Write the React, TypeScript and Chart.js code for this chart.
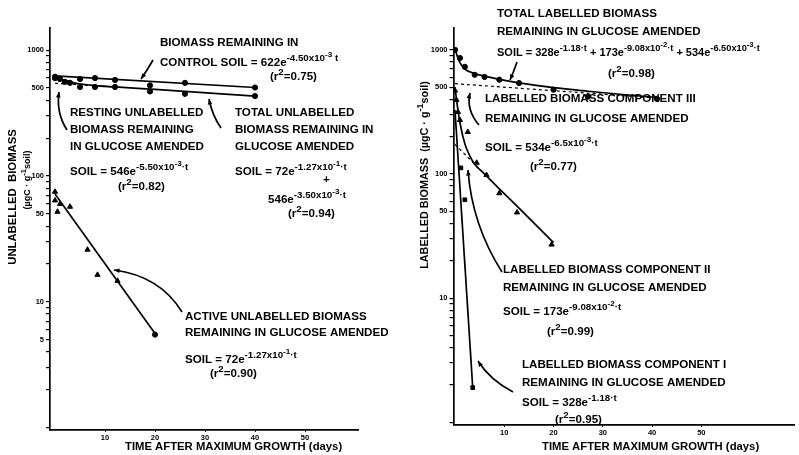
import React, { useEffect, useRef } from "react";
import { Chart, registerables } from "chart.js";
Chart.register(...registerables);

const FONT = '"Liberation Sans", Arial, sans-serif';

// ===== Left panel: unlabelled biomass =====
const controlDays = [0, 5, 8, 12, 19, 26, 40];
const controlBiomass = [615, 590, 600, 580, 525, 550, 505];
const controlFitDays = [0, 40];
const controlFit = [625, 505];

const totalUnlDays = [0, 1, 2, 3, 5, 8, 12, 19, 26, 40];
const totalUnlBiomass = [600, 590, 560, 550, 510, 510, 510, 470, 450, 432];
const totalUnlFitDays = [0, 2, 4, 7, 12, 20, 40];
const totalUnlFit = [615, 575, 548, 528, 510, 488, 432];

const restingFitDays = [0, 12];
const restingFit = [546, 510];

const activeDays = [0, 0, 0.5, 1, 3, 6.5, 8.5, 12.5];
const activeBiomass = [75, 64, 52, 60, 57, 26, 16.4, 14.7];
const activeEndDays = [20];
const activeEnd = [5.5];
const activeFitDays = [0, 20];
const activeFit = [72, 5.6];

const leftYLabels = [1000, 500, 100, 50, 10, 5];

// ===== Right panel: labelled biomass =====
const totalLabDays = [0, 1, 2, 4, 6, 9, 13, 20, 27, 41];
const totalLabBiomass = [1000, 860, 730, 630, 605, 575, 540, 478, 420, 403];
const totalLabFitDays = [0, 0.5, 1, 2, 3, 4, 6, 9, 13, 20, 27, 34, 41];
const totalLabFit = [1035, 880, 790, 700, 665, 643, 614, 578, 542, 496, 464, 437, 413];

const compIIIFitDays = [0, 41];
const compIIIFit = [534, 409];

const compIIDays = [0, 0.3, 0.6, 1, 2.6, 4.4, 6.4, 9, 12.6, 19.6];
const compIIBiomass = [470, 395, 316, 272, 218, 123, 98, 70, 49, 27];
const compIIFitDays = [0, 0.5, 1, 2, 3, 4, 6, 9, 13, 20];
const compIIFit = [500, 350, 260, 175, 140, 120, 100, 76, 53, 28];
const compIIExtrapDays = [0, 6];
const compIIExtrap = [173, 100];

const compIDays = [1.2, 2, 3.6];
const compIBiomass = [112, 62, 1.9];
const compIFitDays = [0, 3.6];
const compIFit = [328, 1.9];

const rightYLabels = [1000, 500, 100, 50, 10];
const xTickValues = [10, 20, 30, 40, 50];

// ---------- helpers ----------
const pts = (xs: number[], ys: number[]) => xs.map((x, i) => ({ x, y: ys[i] }));

const marks = (xs: number[], ys: number[], style: string, r = 2.6) => ({
  data: pts(xs, ys),
  showLine: false,
  pointStyle: style,
  pointRadius: r,
  backgroundColor: "#000",
  borderColor: "#000",
  borderWidth: 1,
});

const line = (xs: number[], ys: number[], dashed = false, curved = false) => ({
  data: pts(xs, ys),
  showLine: true,
  pointRadius: 0,
  borderColor: "#000",
  borderWidth: dashed ? 1.2 : 1.7,
  borderDash: dashed ? [3, 3] : [],
  cubicInterpolationMode: curved ? "monotone" : "default",
  fill: false,
});

function logTicks(min: number, max: number) {
  const out: any[] = [];
  for (let d = 1; d <= 1000; d *= 10)
    for (let m = 1; m <= 9; m++) {
      const v = m * d;
      if (v >= min && v <= max) out.push({ value: v });
    }
  return out;
}

type Seg = [string, number];
type Item = { x: number; y: number; segs: Seg[]; size?: number; rot?: boolean };
type Arrow = { from: [number, number]; ctrl: [number, number]; to: [number, number] };

const plain = (x: number, y: number, t: string, size?: number): Item => ({ x, y, segs: [[t, 0]], size });
const r2 = (x: number, y: number, v: string): Item => ({ x, y, segs: [["(r", 0], ["2", 1], ["=" + v + ")", 0]] });

const segSize = (lvl: number, size: number) => (lvl === 0 ? size : lvl === 1 ? size * 0.84 : size * 0.7);
const segDy = (lvl: number, size: number) => (lvl === 0 ? 0 : lvl === 1 ? -size * 0.42 : -size * 0.74);

function drawRich(ctx: CanvasRenderingContext2D, x: number, y: number, segs: Seg[], size: number) {
  let cx = x;
  for (const [t, lvl] of segs) {
    ctx.font = `bold ${segSize(lvl, size)}px ${FONT}`;
    ctx.fillText(t, cx, y + segDy(lvl, size));
    cx += ctx.measureText(t).width;
  }
}

function richWidth(ctx: CanvasRenderingContext2D, segs: Seg[], size: number) {
  let w = 0;
  for (const [t, lvl] of segs) {
    ctx.font = `bold ${segSize(lvl, size)}px ${FONT}`;
    w += ctx.measureText(t).width;
  }
  return w;
}

function annotationPlugin(items: Item[], arrows: Arrow[], offsetX: number) {
  return {
    id: "annotations",
    afterDraw(chart: any) {
      const ctx: CanvasRenderingContext2D = chart.ctx;
      ctx.save();
      ctx.fillStyle = "#000";
      ctx.strokeStyle = "#000";
      ctx.textBaseline = "middle";
      ctx.textAlign = "left";
      for (const it of items) {
        const size = it.size ?? 11.6;
        if (it.rot) {
          ctx.save();
          ctx.translate(it.x - offsetX, it.y);
          ctx.rotate(-Math.PI / 2);
          const w = richWidth(ctx, it.segs, size);
          drawRich(ctx, -w / 2, 0, it.segs, size);
          ctx.restore();
        } else {
          drawRich(ctx, it.x - offsetX, it.y, it.segs, size);
        }
      }
      ctx.lineWidth = 1.7;
      for (const a of arrows) {
        const [fx, fy] = a.from;
        const [cx, cy] = a.ctrl;
        const [tx, ty] = a.to;
        ctx.beginPath();
        ctx.moveTo(fx - offsetX, fy);
        ctx.quadraticCurveTo(cx - offsetX, cy, tx - offsetX, ty);
        ctx.stroke();
        const ang = Math.atan2(ty - cy, tx - cx);
        const L = 6;
        ctx.beginPath();
        ctx.moveTo(tx - offsetX, ty);
        ctx.lineTo(tx - offsetX - L * Math.cos(ang - 0.4), ty - L * Math.sin(ang - 0.4));
        ctx.lineTo(tx - offsetX - L * Math.cos(ang + 0.4), ty - L * Math.sin(ang + 0.4));
        ctx.closePath();
        ctx.fill();
      }
      ctx.restore();
    },
  };
}

function makeConfig(opts: {
  datasets: any[];
  xMin: number;
  xMax: number;
  yMin: number;
  yMax: number;
  yLabels: number[];
  yWidth: number;
  xHeight: number;
  padding: any;
  plugin: any;
}) {
  const tickFont = { size: 7.5, weight: "bold" as const, family: FONT };
  return {
    type: "scatter" as const,
    data: { datasets: opts.datasets },
    options: {
      animation: false as const,
      responsive: false,
      devicePixelRatio: 1,
      layout: { padding: opts.padding },
      plugins: { legend: { display: false }, tooltip: { enabled: false } },
      scales: {
        x: {
          type: "linear" as const,
          min: opts.xMin,
          max: opts.xMax,
          afterBuildTicks: (s: any) => {
            s.ticks = xTickValues.map((v) => ({ value: v }));
          },
          afterFit: (s: any) => {
            s.height = opts.xHeight;
          },
          ticks: { font: tickFont, color: "#000", padding: 1, autoSkip: false, maxRotation: 0 },
          grid: { drawOnChartArea: false, drawTicks: true, tickLength: 2, color: "#000" },
          border: { color: "#000", width: 1.7 },
        },
        y: {
          type: "logarithmic" as const,
          min: opts.yMin,
          max: opts.yMax,
          afterBuildTicks: (s: any) => {
            s.ticks = logTicks(opts.yMin, opts.yMax);
          },
          afterFit: (s: any) => {
            s.width = opts.yWidth;
          },
          ticks: {
            font: tickFont,
            color: "#000",
            padding: 2,
            autoSkip: false,
            callback: (v: any) => (opts.yLabels.includes(Number(v)) ? String(v) : ""),
          },
          grid: { drawOnChartArea: false, drawTicks: true, tickLength: 4, color: "#000", lineWidth: 1.2 },
          border: { color: "#000", width: 1.7 },
        },
      },
    },
    plugins: [opts.plugin],
  };
}

// ---------- annotations ----------
const leftItems: Item[] = [
  plain(160, 43, "BIOMASS REMAINING IN"),
  { x: 160, y: 63, segs: [["CONTROL SOIL = 622e", 0], ["-4.50x10", 1], ["-3", 2], [" t", 1]] },
  r2(270, 77, "0.75"),
  plain(70, 113, "RESTING UNLABELLED"),
  plain(70, 130, "BIOMASS REMAINING"),
  plain(70, 147, "IN GLUCOSE AMENDED"),
  { x: 70, y: 172, segs: [["SOIL = 546e", 0], ["-5.50x10", 1], ["-3", 2], ["·t", 1]] },
  r2(118, 187, "0.82"),
  plain(235, 113, "TOTAL UNLABELLED"),
  plain(235, 130, "BIOMASS REMAINING IN"),
  plain(235, 147, "GLUCOSE AMENDED"),
  { x: 235, y: 172, segs: [["SOIL = 72e", 0], ["-1.27x10", 1], ["-1", 2], ["·t", 1]] },
  plain(323, 180, "+"),
  { x: 268, y: 200, segs: [["546e", 0], ["-3.50x10", 1], ["-3", 2], ["·t", 1]] },
  r2(288, 214, "0.94"),
  plain(185, 317, "ACTIVE UNLABELLED BIOMASS"),
  plain(185, 333, "REMAINING IN GLUCOSE AMENDED"),
  { x: 185, y: 360, segs: [["SOIL = 72e", 0], ["-1.27x10", 1], ["-1", 2], ["·t", 1]] },
  r2(210, 374, "0.90"),
  plain(125, 447, "TIME AFTER MAXIMUM GROWTH (days)", 11.3),
  { x: 13, y: 197, segs: [["UNLABELLED  BIOMASS", 0]], size: 11.3, rot: true },
  { x: 28, y: 180, segs: [["(µgC · g", 0], ["-1", 1], ["soil)", 0]], size: 9, rot: true },
];
const leftArrows: Arrow[] = [
  { from: [153, 60], ctrl: [148, 69], to: [141, 79] },
  { from: [67, 130], ctrl: [56, 113], to: [59, 92] },
  { from: [221, 128], ctrl: [212, 115], to: [209, 99] },
  { from: [182, 312], ctrl: [160, 276], to: [114, 270] },
];

const rightItems: Item[] = [
  plain(497, 14, "TOTAL LABELLED BIOMASS"),
  plain(497, 32, "REMAINING IN GLUCOSE AMENDED"),
  {
    x: 497,
    y: 53,
    size: 11,
    segs: [
      ["SOIL = 328e", 0], ["-1.18·t", 1], [" + 173e", 0], ["-9.08x10", 1], ["-2", 2], ["·t", 1],
      [" + 534e", 0], ["-6.50x10", 1], ["-3", 2], ["·t", 1],
    ],
  },
  r2(608, 74, "0.98"),
  plain(485, 99, "LABELLED BIOMASS COMPONENT III"),
  plain(485, 119, "REMAINING IN GLUCOSE AMENDED"),
  { x: 485, y: 148, segs: [["SOIL = 534e", 0], ["-6.5x10", 1], ["-3", 2], ["·t", 1]] },
  r2(530, 167, "0.77"),
  plain(503, 270, "LABELLED BIOMASS COMPONENT II"),
  plain(503, 288, "REMAINING IN GLUCOSE AMENDED"),
  { x: 503, y: 312, segs: [["SOIL = 173e", 0], ["-9.08x10", 1], ["-2", 2], ["·t", 1]] },
  r2(547, 332, "0.99"),
  plain(522, 365, "LABELLED BIOMASS COMPONENT I"),
  plain(522, 383, "REMAINING IN GLUCOSE AMENDED"),
  { x: 522, y: 403, segs: [["SOIL = 328e", 0], ["-1.18·t", 1]] },
  r2(555, 420, "0.95"),
  plain(542, 447, "TIME AFTER MAXIMUM GROWTH (days)", 11.3),
  { x: 425, y: 175, segs: [["LABELLED BIOMASS  (µgC · g", 0], ["-1", 1], ["soil)", 0]], size: 10.8, rot: true },
];
const rightArrows: Arrow[] = [
  { from: [517, 62], ctrl: [514, 71], to: [510, 80] },
  { from: [479, 125], ctrl: [466, 110], to: [470, 93] },
  { from: [502, 272], ctrl: [472, 225], to: [468, 170] },
  { from: [513, 392], ctrl: [490, 380], to: [478, 361] },
];

function leftConfig() {
  return makeConfig({
    datasets: [
      line(controlFitDays, controlFit),
      line(totalUnlFitDays, totalUnlFit, false, true),
      line(restingFitDays, restingFit, true),
      line(activeFitDays, activeFit),
      marks(controlDays, controlBiomass, "circle"),
      marks(totalUnlDays, totalUnlBiomass, "circle"),
      marks(activeDays, activeBiomass, "triangle", 3),
      marks(activeEndDays, activeEnd, "circle"),
    ],
    xMin: -1,
    xMax: 60.6,
    yMin: 0.96,
    yMax: 1500,
    yLabels: leftYLabels,
    yWidth: 50,
    xHeight: 25,
    padding: { left: 0, right: 42, top: 28, bottom: 0 },
    plugin: annotationPlugin(leftItems, leftArrows, 0),
  });
}

function rightConfig() {
  return makeConfig({
    datasets: [
      line(totalLabFitDays, totalLabFit, false, true),
      line(compIIIFitDays, compIIIFit, true),
      line(compIIFitDays, compIIFit, false, true),
      line(compIIExtrapDays, compIIExtrap, true),
      line(compIFitDays, compIFit),
      marks(totalLabDays, totalLabBiomass, "circle"),
      marks(compIIDays, compIIBiomass, "triangle", 3),
      marks(compIDays, compIBiomass, "rect", 2.6),
    ],
    xMin: -0.3,
    xMax: 68.8,
    yMin: 0.95,
    yMax: 1500,
    yLabels: rightYLabels,
    yWidth: 53.5,
    xHeight: 30,
    padding: { left: 0, right: 0, top: 28, bottom: 0 },
    plugin: annotationPlugin(rightItems, rightArrows, 400),
  });
}

export default function App() {
  const leftRef = useRef<HTMLCanvasElement>(null);
  const rightRef = useRef<HTMLCanvasElement>(null);
  useEffect(() => {
    const l = new Chart(leftRef.current as any, leftConfig() as any);
    const r = new Chart(rightRef.current as any, rightConfig() as any);
    return () => {
      l.destroy();
      r.destroy();
    };
  }, []);
  return (
    <div style={{ position: "fixed", left: 0, top: 0, width: 799, height: 455, background: "#fff" }}>
      <canvas ref={leftRef} width={400} height={455} style={{ position: "absolute", left: 0, top: 0 }} />
      <canvas ref={rightRef} width={399} height={455} style={{ position: "absolute", left: 400, top: 0 }} />
    </div>
  );
}
